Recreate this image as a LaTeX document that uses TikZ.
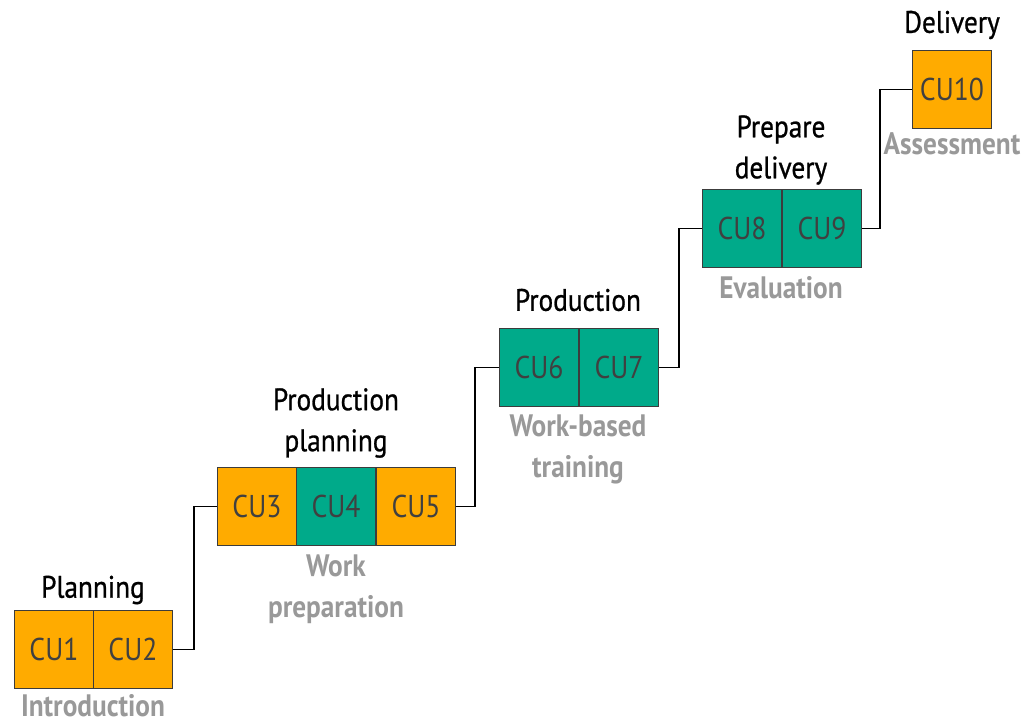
\documentclass[tikz,border=0pt]{standalone}
\usepackage{fontspec}
\setmainfont{PT Sans}[FakeStretch=0.88]
\newfontfamily\headfont{PT Sans}[FakeStretch=0.88, FakeBold=0.8]
\begin{document}
\definecolor{cuorange}{HTML}{FFAB00}
\definecolor{cuteal}{HTML}{00AA8A}
\definecolor{cuedge}{HTML}{3C3C3C}
\definecolor{cutext}{HTML}{404040}
\definecolor{subgray}{HTML}{999999}
\begin{tikzpicture}[x=1pt,y=-1pt,
  cubox/.style={draw=cuedge, line width=1pt, minimum width=79pt, minimum height=78pt,
    inner sep=0pt, anchor=north west, text=cutext, font=\fontsize{31.5}{36}\selectfont},
  orangebox/.style={cubox, fill=cuorange},
  tealbox/.style={cubox, fill=cuteal},
  phase/.style={align=center, text=black, font=\headfont\fontsize{31}{41}\selectfont},
  subphase/.style={align=center, text=subgray, font=\fontsize{31}{41}\selectfont\bfseries},
  link/.style={draw=black, line width=1.9pt}]
\useasboundingbox (0,0) rectangle (1027,726);

% unit boxes
\node[orangebox] (cu1) at (14,610) {CU1};
\node[orangebox] (cu2) at (93,610) {CU2};
\node[orangebox] (cu3) at (217,467) {CU3};
\node[tealbox]   (cu4) at (296,467) {CU4};
\node[orangebox] (cu5) at (376,467) {CU5};
\node[tealbox]   (cu6) at (499,328) {CU6};
\node[tealbox]   (cu7) at (579,328) {CU7};
\node[tealbox]   (cu8) at (702,189) {CU8};
\node[tealbox]   (cu9) at (782,189) {CU9};
\node[orangebox] (cu10) at (912,50) {CU10};

% phase titles
\node[phase] (t1) at (93,590) {Planning};
\node[phase] (t2) at (336,423) {Production\\planning};
\node[phase] (t3) at (578,300) {Production};
\node[phase] (t4) at (781,150) {Prepare\\delivery};
\node[phase] (t5) at (952,25) {Delivery};

% sub-phase labels
\node[subphase] (s1) at (93,706) {Introduction};
\node[subphase] (s2) at (336,589) {Work\\preparation};
\node[subphase] (s3) at (578,449) {Work-based\\training};
\node[subphase] (s4) at (781,288) {Evaluation};
\node[subphase] (s5) at (952,144) {Assessment};

% step connectors
\draw[link] (cu2.east) -- ++(21,0) |- (cu3.west);
\draw[link] (cu5.east) -- ++(19,0) |- (cu6.west);
\draw[link] (cu7.east) -- ++(20,0) |- (cu8.west);
\draw[link] (cu9.east) -- ++(18,0) |- (cu10.west);
\end{tikzpicture}
\end{document}
